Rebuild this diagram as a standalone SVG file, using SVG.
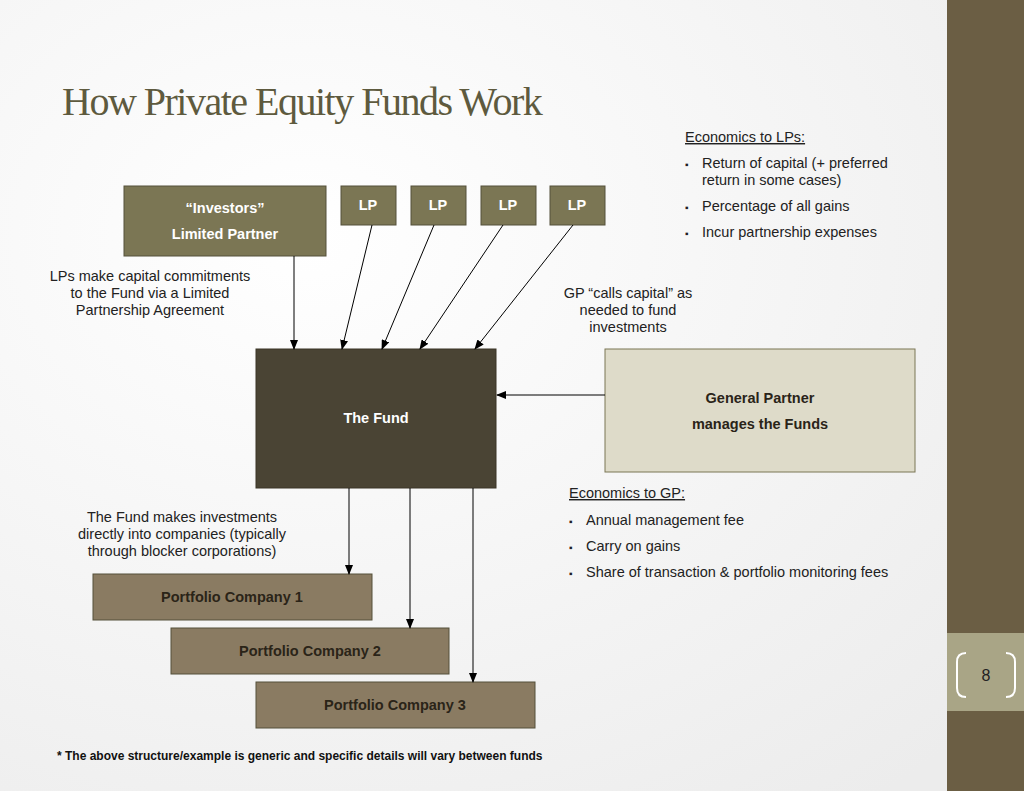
<svg xmlns="http://www.w3.org/2000/svg" width="1024" height="791" viewBox="0 0 1024 791">
<defs>
<radialGradient id="bg" cx="0.3" cy="0.3" r="0.9"><stop offset="0" stop-color="#ffffff"/><stop offset="1" stop-color="#ececec"/></radialGradient>
<marker id="ah" markerWidth="10" markerHeight="8" refX="9" refY="4" orient="auto" markerUnits="userSpaceOnUse"><path d="M0,0 L10,4 L0,8 z" fill="#000"/></marker>
<style>
text{font-family:"Liberation Sans",Arial,sans-serif;font-size:14.5px;fill:#222}
.b{font-weight:bold}
.w{fill:#fff;font-weight:bold}
.ol{fill:#7b7654;stroke:#55503a;stroke-width:1}
.pc{fill:#8a7b62;stroke:#55503a;stroke-width:1}
.pt{font-weight:bold;fill:#2a2418}
.c line{stroke:#000;stroke-width:1;marker-end:url(#ah)}
</style>
</defs>
<rect width="1024" height="791" fill="url(#bg)"/>
<rect x="947" y="0" width="77" height="791" fill="#6b5e44"/>
<rect x="947" y="633" width="77" height="78" fill="#a9a586"/>
<path d="M966,653 Q957,653 957,662 L957,688 Q957,697 966,697 M1006,653 Q1015,653 1015,662 L1015,688 Q1015,697 1006,697" fill="none" stroke="#fff" stroke-width="2"/>
<text x="986" y="681" text-anchor="middle" style="font-size:16px">8</text>
<text x="62" y="115" style="font-family:'Liberation Serif',serif;font-size:40px;fill:#5e5a3e;letter-spacing:-1.5px">How Private Equity Funds Work</text>

<g id="investors"><rect class="ol" x="124" y="186" width="202" height="70"/><text class="w" x="225" y="213" text-anchor="middle">“Investors”</text><text class="w" x="225" y="239" text-anchor="middle">Limited Partner</text></g>
<g id="lp1"><rect class="ol" x="341" y="186" width="55" height="39"/><text class="w" x="368" y="210" text-anchor="middle">LP</text></g>
<g id="lp2"><rect class="ol" x="411" y="186" width="55" height="39"/><text class="w" x="438" y="210" text-anchor="middle">LP</text></g>
<g id="lp3"><rect class="ol" x="481" y="186" width="55" height="39"/><text class="w" x="508" y="210" text-anchor="middle">LP</text></g>
<g id="lp4"><rect class="ol" x="550" y="186" width="55" height="39"/><text class="w" x="577" y="210" text-anchor="middle">LP</text></g>
<g id="fund"><rect x="256" y="349" width="240" height="139" fill="#4a4434" stroke="#3a3526"/><text class="w" x="376" y="423" text-anchor="middle">The Fund</text></g>
<g id="gp"><rect x="605" y="349" width="310" height="123" fill="#dedbc9" stroke="#7b7654"/><text class="pt" x="760" y="403" text-anchor="middle">General Partner</text><text class="pt" x="760" y="429" text-anchor="middle">manages the Funds</text></g>
<g id="pc1"><rect class="pc" x="93" y="574" width="279" height="46"/><text class="pt" x="232" y="602" text-anchor="middle">Portfolio Company 1</text></g>
<g id="pc2"><rect class="pc" x="171" y="628" width="278" height="46"/><text class="pt" x="310" y="656" text-anchor="middle">Portfolio Company 2</text></g>
<g id="pc3"><rect class="pc" x="256" y="682" width="279" height="46"/><text class="pt" x="395" y="710" text-anchor="middle">Portfolio Company 3</text></g>

<g class="c" id="connectors">
<line x1="294" y1="256" x2="294" y2="349"/>
<line x1="372" y1="225" x2="342" y2="349"/>
<line x1="434" y1="225" x2="382" y2="349"/>
<line x1="503" y1="225" x2="420" y2="349"/>
<line x1="573" y1="225" x2="475" y2="349"/>
<line x1="605" y1="395" x2="497" y2="395"/>
<line x1="349" y1="488" x2="349" y2="574"/>
<line x1="410" y1="488" x2="410" y2="628"/>
<line x1="473" y1="488" x2="473" y2="682"/>
</g>

<g id="notes">
<text x="150" y="281" text-anchor="middle">LPs make capital commitments</text>
<text x="150" y="298" text-anchor="middle">to the Fund via a Limited</text>
<text x="150" y="315" text-anchor="middle">Partnership Agreement</text>
<text x="628" y="298" text-anchor="middle">GP “calls capital” as</text>
<text x="628" y="315" text-anchor="middle">needed to fund</text>
<text x="628" y="332" text-anchor="middle">investments</text>
<text x="182" y="522" text-anchor="middle">The Fund makes investments</text>
<text x="182" y="539" text-anchor="middle">directly into companies (typically</text>
<text x="182" y="556" text-anchor="middle">through blocker corporations)</text>
<text x="685" y="142" text-decoration="underline">Economics to LPs:</text>
<text x="685" y="168" style="font-size:10px">▪</text><text x="702" y="168">Return of capital (+ preferred</text>
<text x="702" y="185">return in some cases)</text>
<text x="685" y="211" style="font-size:10px">▪</text><text x="702" y="211">Percentage of all gains</text>
<text x="685" y="237" style="font-size:10px">▪</text><text x="702" y="237">Incur partnership expenses</text>
<text x="569" y="498" text-decoration="underline">Economics to GP:</text>
<text x="569" y="525" style="font-size:10px">▪</text><text x="586" y="525">Annual management fee</text>
<text x="569" y="551" style="font-size:10px">▪</text><text x="586" y="551">Carry on gains</text>
<text x="569" y="577" style="font-size:10px">▪</text><text x="586" y="577">Share of transaction &amp; portfolio monitoring  fees</text>
<text class="b" x="57" y="760" style="font-size:12px;fill:#111">* The above structure/example is generic and specific details will vary between funds</text>
</g>
</svg>
